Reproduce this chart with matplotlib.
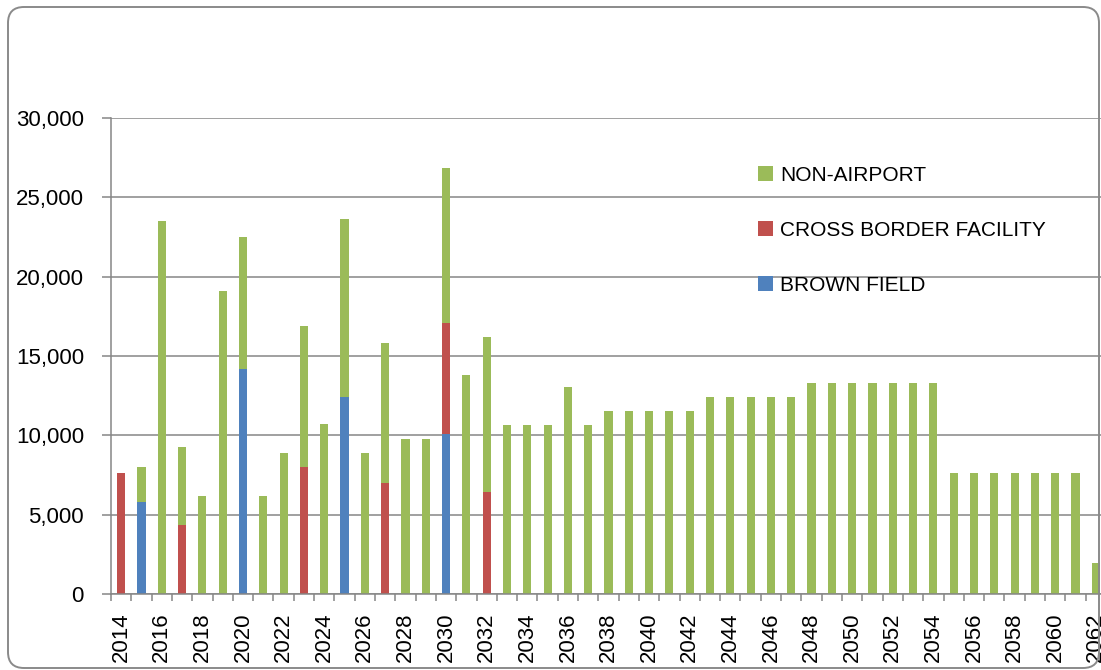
import numpy as np
import matplotlib
matplotlib.use('Agg')
import matplotlib.pyplot as plt
from matplotlib.patches import FancyBboxPatch

plt.rcParams['font.family'] = ['Liberation Sans', 'DejaVu Sans']

years = list(range(2014, 2063))
brown_field = [0, 5800, 0, 0, 0, 0, 14150, 0, 0, 0, 0, 12400, 0, 0, 0, 0, 10100,
               0, 0, 0, 0, 0, 0, 0, 0, 0, 0, 0, 0, 0, 0, 0, 0, 0, 0, 0, 0, 0, 0,
               0, 0, 0, 0, 0, 0, 0, 0, 0, 0]
cross_border = [7600, 0, 0, 4350, 0, 0, 0, 0, 0, 8000, 0, 0, 0, 7000, 0, 0, 7000,
                0, 6450, 0, 0, 0, 0, 0, 0, 0, 0, 0, 0, 0, 0, 0, 0, 0, 0, 0, 0, 0, 0,
                0, 0, 0, 0, 0, 0, 0, 0, 0, 0]
non_airport = [0, 2200, 23500, 4900, 6150, 19100, 8350, 6150, 8900, 8900, 10700,
               11250, 8900, 8850, 9750, 9750, 9750, 13800, 9750, 10650, 10650,
               10650, 13050, 10650,
               11550, 11550, 11550, 11550, 11550,
               12400, 12400, 12400, 12400, 12400,
               13300, 13300, 13300, 13300, 13300, 13300, 13300,
               7650, 7650, 7650, 7650, 7650, 7650, 7650,
               1950]

W, H = 1101, 670
fig = plt.figure(figsize=(W / 100, H / 100), dpi=100)
fig.patch.set_facecolor('white')

# rounded chart frame (in inches so the corners stay round)
frame = FancyBboxPatch((0.08, 0.02), 10.91, 6.61,
                       boxstyle='round,pad=0,rounding_size=0.16',
                       transform=fig.dpi_scale_trans, facecolor='none',
                       edgecolor='#8a8a8a', linewidth=1.4)
fig.patches.append(frame)

ax = fig.add_axes([111 / W, 1 - 594 / H, (1106 - 111) / W, (594 - 118) / H])

x = np.arange(len(years))
b = np.array(brown_field)
c = np.array(cross_border)
n = np.array(non_airport)
bw = 0.4
h1 = ax.bar(x, b, width=bw, color='#4F81BD', label='BROWN FIELD')
h2 = ax.bar(x, c, width=bw, bottom=b, color='#C0504D', label='CROSS BORDER FACILITY')
h3 = ax.bar(x, n, width=bw, bottom=b + c, color='#9BBB59', label='NON-AIRPORT')

ax.set_xlim(-0.5, len(years) - 0.5)
ax.set_ylim(0, 30000)
yt = np.arange(0, 30001, 5000)
ax.set_yticks(yt)
ax.set_yticklabels([f'{v:,}' for v in yt], fontsize=16)
ax.set_xticks(x[::2])
ax.set_xticklabels([str(y) for y in years[::2]], rotation=90, fontsize=16)
ax.set_xticks(np.arange(-0.5, len(years) + 0.5, 1), minor=True)

grey = '#868686'
ax.yaxis.grid(True, color=grey, linewidth=1.1)
ax.set_axisbelow(True)
for s in ['top', 'right']:
    ax.spines[s].set_visible(False)
for s in ['left', 'bottom']:
    ax.spines[s].set_color(grey)
    ax.spines[s].set_linewidth(1.1)
ax.tick_params(axis='y', length=6.5, width=1.1, color=grey, pad=13)
ax.tick_params(axis='x', which='major', length=0, pad=13)
ax.tick_params(axis='x', which='minor', length=5, width=1.1, color=grey)

ax.legend(handles=[h3, h2, h1], loc='upper left',
          bbox_to_anchor=(758 / W, 1 - 166 / H), bbox_transform=fig.transFigure,
          frameon=False, fontsize=15, labelspacing=1.72, handlelength=0.7,
          handleheight=0.7, handletextpad=0.35, borderpad=0, borderaxespad=0)

fig.savefig('out.png', dpi=100)
